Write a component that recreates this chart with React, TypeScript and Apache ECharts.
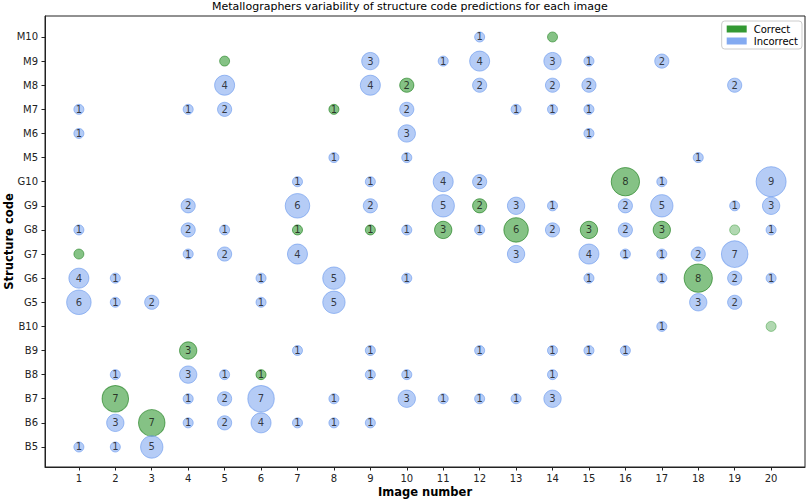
import React, { useEffect, useRef } from "react";
import * as echarts from "echarts";

const structureCodes = ["B5", "B6", "B7", "B8", "B9", "B10", "G5", "G6", "G7", "G8", "G9", "G10", "M5", "M6", "M7", "M8", "M9", "M10"];
const imageNumbers = [1, 2, 3, 4, 5, 6, 7, 8, 9, 10, 11, 12, 13, 14, 15, 16, 17, 18, 19, 20];

// [image number, structure code, count]
const incorrectPredictions: [number, string, number][] = [
  [12, "M10", 1],
  [9, "M9", 3], [11, "M9", 1], [12, "M9", 4], [14, "M9", 3], [15, "M9", 1], [17, "M9", 2],
  [5, "M8", 4], [9, "M8", 4], [12, "M8", 2], [14, "M8", 2], [15, "M8", 2], [19, "M8", 2],
  [1, "M7", 1], [4, "M7", 1], [5, "M7", 2], [10, "M7", 2], [13, "M7", 1], [14, "M7", 1], [15, "M7", 1],
  [1, "M6", 1], [10, "M6", 3], [15, "M6", 1],
  [8, "M5", 1], [10, "M5", 1], [18, "M5", 1],
  [7, "G10", 1], [9, "G10", 1], [11, "G10", 4], [12, "G10", 2], [17, "G10", 1], [20, "G10", 9],
  [4, "G9", 2], [7, "G9", 6], [9, "G9", 2], [11, "G9", 5], [13, "G9", 3], [14, "G9", 1], [16, "G9", 2], [17, "G9", 5], [19, "G9", 1], [20, "G9", 3],
  [1, "G8", 1], [4, "G8", 2], [5, "G8", 1], [10, "G8", 1], [12, "G8", 1], [14, "G8", 2], [16, "G8", 2], [20, "G8", 1],
  [4, "G7", 1], [5, "G7", 2], [7, "G7", 4], [13, "G7", 3], [15, "G7", 4], [16, "G7", 1], [17, "G7", 1], [18, "G7", 2], [19, "G7", 7],
  [1, "G6", 4], [2, "G6", 1], [6, "G6", 1], [8, "G6", 5], [10, "G6", 1], [15, "G6", 1], [17, "G6", 1], [19, "G6", 2], [20, "G6", 1],
  [1, "G5", 6], [2, "G5", 1], [3, "G5", 2], [6, "G5", 1], [8, "G5", 5], [18, "G5", 3], [19, "G5", 2],
  [17, "B10", 1],
  [7, "B9", 1], [9, "B9", 1], [12, "B9", 1], [14, "B9", 1], [15, "B9", 1], [16, "B9", 1],
  [2, "B8", 1], [4, "B8", 3], [5, "B8", 1], [9, "B8", 1], [10, "B8", 1], [14, "B8", 1],
  [4, "B7", 1], [5, "B7", 2], [6, "B7", 7], [8, "B7", 1], [10, "B7", 3], [11, "B7", 1], [12, "B7", 1], [13, "B7", 1], [14, "B7", 3],
  [2, "B6", 3], [4, "B6", 1], [5, "B6", 2], [6, "B6", 4], [7, "B6", 1], [8, "B6", 1], [9, "B6", 1],
  [1, "B5", 1], [2, "B5", 1], [3, "B5", 5],
];

const correctPredictions: [number, string, number][] = [
  [10, "M8", 2], [8, "M7", 1], [16, "G10", 8], [12, "G9", 2],
  [7, "G8", 1], [9, "G8", 1], [11, "G8", 3], [13, "G8", 6], [15, "G8", 3], [17, "G8", 3],
  [18, "G6", 8], [4, "B9", 3], [6, "B8", 1], [2, "B7", 7], [3, "B6", 7],
];

// true code of the image, with no correct prediction
const missedTrueCodes: [number, string][] = [[1, "G7"], [5, "M9"], [14, "M10"]];
const missedTrueCodesFaded: [number, string][] = [[19, "G8"], [20, "B10"]];

const FONT = "DejaVu Sans";
const GREEN = "rgba(0,128,0,0.6)";
const BLUE = "rgba(100,149,237,0.6)";

export default function App() {
  const ref = useRef<HTMLDivElement>(null);
  useEffect(() => {
    if (!ref.current) return;
    const chart = echarts.init(ref.current, null, { renderer: "svg" });
    const toPoint = (d: [number, string, number]) => [d[0], structureCodes.indexOf(d[1]), d[2]];
    const bubbleLabel = {
      show: true,
      position: "inside",
      formatter: (p: any) => String(p.value[2]),
      fontFamily: FONT,
      fontSize: 10,
      color: "#111",
    };
    chart.setOption({
      animation: false,
      title: {
        text: "Metallographers variability of structure code predictions for each image",
        left: 207,
        top: -4,
        textStyle: { fontFamily: FONT, fontSize: 11, fontWeight: "normal", color: "#000" },
      },
      legend: {
        orient: "vertical",
        right: 7,
        top: 21,
        padding: [3, 4, 3, 5],
        borderColor: "#ccc",
        borderWidth: 1,
        borderRadius: 3,
        itemWidth: 20,
        itemHeight: 7,
        itemGap: 2,
        textStyle: { fontFamily: FONT, fontSize: 10, color: "#000", padding: [0, 0, 0, 2] },
        data: [
          { name: "Correct", icon: "rect", itemStyle: { color: "#008000", borderWidth: 0 } },
          { name: "Incorrect", icon: "rect", itemStyle: { color: "#6495ED", borderWidth: 0 } },
        ],
      },
      grid: {
        left: 45,
        right: 4,
        top: 16,
        bottom: 34,
        show: true,
        borderColor: "#222",
        borderWidth: 1,
        containLabel: false,
        outerBoundsMode: "none",
      },
      xAxis: {
        type: "value",
        min: 0.07,
        max: 20.93,
        name: "Image number",
        nameLocation: "middle",
        nameGap: 19,
        nameMoveOverlap: false,
        nameTextStyle: { fontFamily: FONT, fontSize: 11.5, fontWeight: "bold", color: "#000" },
        axisLine: { show: true, onZero: false, lineStyle: { color: "#222", width: 1 } },
        axisTick: { show: true, length: 3.5, customValues: imageNumbers, lineStyle: { color: "#222" } },
        axisLabel: {
          customValues: imageNumbers,
          margin: 6,
          fontFamily: FONT,
          fontSize: 10,
          color: "#222",
        },
        splitLine: { show: false },
      },
      yAxis: {
        type: "value",
        min: -0.83,
        max: 17.87,
        name: "Structure code",
        nameLocation: "middle",
        nameGap: 30,
        nameMoveOverlap: false,
        nameTextStyle: { fontFamily: FONT, fontSize: 11.5, fontWeight: "bold", color: "#000" },
        axisLine: { show: true, onZero: false, lineStyle: { color: "#222", width: 1 } },
        axisTick: { show: true, length: 3.5, customValues: structureCodes.map((_, i) => i), lineStyle: { color: "#222" } },
        axisLabel: {
          customValues: structureCodes.map((_, i) => i),
          formatter: (v: number) => structureCodes[Math.round(v)] ?? "",
          margin: 7,
          fontFamily: FONT,
          fontSize: 10,
          color: "#222",
        },
        splitLine: { show: false },
      },
      series: [
        {
          name: "Correct",
          type: "scatter",
          data: correctPredictions.map(toPoint),
          symbolSize: (v: number[]) => 10 * Math.sqrt(v[2]),
          itemStyle: { color: GREEN, borderColor: "rgba(0,110,0,0.7)", borderWidth: 1 },
          label: bubbleLabel,
          emphasis: { disabled: true },
        },
        {
          name: "Incorrect",
          type: "scatter",
          data: incorrectPredictions.map(toPoint),
          symbolSize: (v: number[]) => 10 * Math.sqrt(v[2]),
          itemStyle: { color: BLUE, borderColor: "rgba(100,149,237,0.75)", borderWidth: 1 },
          label: bubbleLabel,
          emphasis: { disabled: true },
        },
        {
          name: "True code",
          type: "scatter",
          data: [
            ...missedTrueCodes.map((d) => ({ value: [d[0], structureCodes.indexOf(d[1])] })),
            ...missedTrueCodesFaded.map((d) => ({
              value: [d[0], structureCodes.indexOf(d[1])],
              itemStyle: { color: "rgba(0,128,0,0.38)", borderColor: "rgba(0,128,0,0.45)" },
            })),
          ],
          symbolSize: 10,
          itemStyle: { color: GREEN, borderColor: "rgba(0,110,0,0.6)", borderWidth: 1 },
          label: { show: false },
          emphasis: { disabled: true },
        },
      ],
    });
    return () => chart.dispose();
  }, []);
  return <div ref={ref} style={{ width: 809, height: 501, position: "absolute", left: 0, top: 0 }} />;
}
